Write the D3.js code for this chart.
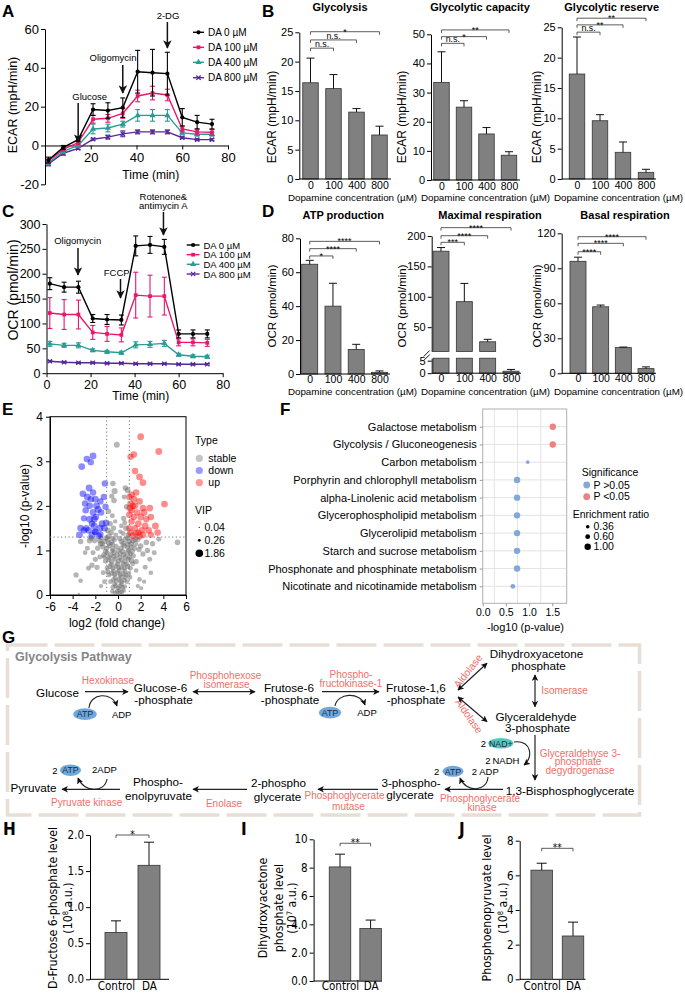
<!DOCTYPE html>
<html lang="en">
<head>
<meta charset="utf-8" />
<title>Dopamine and glycolysis</title>
<style>
  body { margin: 0; background: #fff; }
  svg { display: block; font-family: "Liberation Sans", Arial, Helvetica, sans-serif; }
  .narrow { font-family: "Liberation Sans Narrow", "Arial Narrow", "DejaVu Sans Condensed", sans-serif; }
</style>
</head>
<body>
<script src="https://cdn.jsdelivr.net/npm/d3@7"></script>
<script>
// ---------- data ----------
const seahorseTime = [1.5, 8, 14.5, 21, 27.5, 34, 40.5, 47, 53.5, 60, 66.5, 73];
const doseNames = ["DA 0 µM", "DA 100 µM", "DA 400 µM", "DA 800 µM"];

const ecar0 = [-7.5, -1, 3, 18.5, 18, 19.5, 38, 37.5, 37, 14.5, 12, 11];
const ecar100 = [-8, -2, 1.5, 13.5, 14, 16.5, 25.5, 27, 26, 8.5, 7, 6.8];
const ecar400 = [-9, -3, 0, 8.5, 9, 11, 15.5, 15.5, 15.5, 6.5, 5.8, 5.8];
const ecar800 = [-9.5, -4, -1.5, 3.2, 4.3, 6, 7, 7, 7, 4, 3, 3];
const ecar0Err = [1.5, 1, 1, 3, 4, 5, 11, 12, 11, 4.5, 3.5, 2.5];
const ecar100Err = [1, 1, 1, 2, 2, 2.5, 3, 3.5, 3, 1.5, 1.5, 1.5];
const ecar400Err = [1, 1, 1, 2.5, 2, 1.5, 3, 3, 3, 1, 1, 1];
const ecar800Err = [1, 1, 0.5, 0.5, 1, 1.5, 1, 1, 1, 0.5, 0.5, 0.5];

const ocr0 = [180, 173, 173, 110, 108, 107, 256, 258, 254, 79, 79, 79];
const ocr100 = [121, 118, 118, 82, 79, 77, 157, 155, 155, 62, 62, 61];
const ocr400 = [59, 56, 56, 46, 43, 41, 57, 58, 60, 37, 34, 33];
const ocr800 = [24, 22, 21, 21, 20, 20, 19, 19, 19, 18, 18, 18];
const ocr0Err = [12, 10, 12, 8, 10, 10, 20, 17, 15, 8, 8, 8];
const ocr100Err = [31, 30, 29, 14, 15, 14, 46, 42, 38, 7, 7, 7];
const ocr400Err = [5, 4, 5, 3, 3, 3, 6, 6, 6, 3, 3, 3];
const ocr800Err = [1.5, 1.5, 1.5, 1.5, 1.5, 1.5, 1.5, 1.5, 1.5, 1.5, 1.5, 1.5];

const doseCats = ["0", "100", "400", "800"];
const glycolysis = [16.4, 15.4, 11.4, 7.5];
const glycolysisErr = [4.2, 2.4, 0.6, 1.5];
const glycCapacity = [33.5, 25, 15.8, 8.5];
const glycCapacityErr = [10.5, 2.2, 2.2, 1.2];
const glycReserve = [17.3, 9.6, 4.4, 1.1];
const glycReserveErr = [6.1, 1.0, 1.7, 0.5];
const atpProd = [64.7, 40, 14.5, 1];
const atpProdErr = [2.3, 13.5, 3, 0.8];
const maxResp = [175, 92, 26, 0.8];
const maxRespErr = [6, 30, 4, 0.7];
const basalResp = [96, 57, 22, 4];
const basalRespErr = [3.5, 1.5, 0.5, 1.5];

// significance brackets: [index of second group, height in data units, label]
const glycolysisSig = [[1, 22.3, "n.s."], [2, 23.7, "n.s."], [3, 25.1, "*"]];
const capacitySig = [[1, 46.9, "n.s."], [2, 49.2, "*"], [3, 51.5, "**"]];
const reserveSig = [[1, 24.2, "n.s."], [2, 25.4, "**"], [3, 26.5, "**"]];
const atpSig = [[1, 69.6, "*"], [2, 73.9, "****"], [3, 78.2, "****"]];
const maxSig = [[1, 189.6, "***"], [2, 200.5, "****"], [3, 213.7, "****"]];
const basalSig = [[1, 104.2, "****"], [2, 111.4, "****"], [3, 117.1, "****"]];

// volcano: [log2 fold change, -log10 p, VIP]
const downPts = [[-3.2,2.88,1.5],[-2.75,3.05,1.4],[-2.2,3.12,1.5],[-2.4,2.98,1.3],[-1.15,2.5,1.4],[-2.55,2.4,1.5],
  [-3.1,2.27,1.4],[-2.2,2.3,1.3],[-2.7,2.2,1.5],[-2.0,2.15,1.4],[-1.25,2.2,1.3],[-2.5,2.0,1.4],[-1.9,2.0,1.5],
  [-1.1,1.98,1.3],[-2.85,1.9,1.4],[-2.2,1.85,1.5],[-1.5,1.85,1.4],[-3.0,1.72,1.3],[-2.5,1.7,1.5],[-1.95,1.75,1.4],
  [-2.3,1.6,1.3],[-1.4,1.6,1.5],[-3.3,1.5,1.4],[-2.8,1.5,1.3],[-2.1,1.55,1.4],[-1.6,1.5,1.5],[-1.2,1.5,1.4],
  [-3.4,1.35,1.5],[-2.0,1.42,1.4],[-1.55,1.36,1.3],[-2.6,1.45,1.4],[-1.75,1.92,1.5],[-2.4,2.15,1.3],[-2.1,1.7,1.5],
  [-1.55,2.1,1.3],[-1.05,1.62,1.4],[-2.9,2.05,1.4],[-1.7,1.33,1.3],[-2.3,1.34,1.5],[-3.0,1.45,1.4],[-2.05,1.42,1.2]];
const upPts = [[2.0,3.55,1.5],[3.6,3.22,1.5],[1.4,3.15,1.4],[1.1,3.1,1.3],[1.5,2.78,1.4],[1.9,2.65,1.5],[2.2,2.52,1.4],
  [4.1,2.04,1.5],[1.2,2.25,1.4],[1.0,2.2,1.3],[1.4,2.15,1.5],[1.9,2.1,1.4],[1.1,2.05,1.3],[1.5,2.0,1.5],[2.2,1.95,1.4],
  [2.8,1.95,1.5],[1.2,1.9,1.4],[1.7,1.85,1.3],[2.3,1.85,1.5],[1.0,1.8,1.4],[1.4,1.75,1.3],[2.0,1.75,1.5],[2.9,1.75,1.4],
  [1.2,1.65,1.3],[1.8,1.6,1.5],[2.4,1.55,1.4],[3.3,1.55,1.5],[1.5,1.5,1.3],[2.1,1.45,1.4],[2.7,1.45,1.5],[1.1,1.4,1.4],
  [1.6,1.38,1.3],[2.2,1.35,1.5],[3.5,1.4,1.4],[2.9,1.35,1.3],[1.3,1.33,1.5],[1.9,1.32,1.4],[1.0,1.5,1.3],[1.3,2.0,1.4],
  [2.5,1.7,1.3],[1.6,2.3,1.4],[1.05,1.95,1.5],[1.8,1.4,1.3]];
const stablePts = [[-0.1,3.37,1.1],[-0.45,2.5,1.0],[-0.3,2.33,1.2],[0.65,2.4,1.0],[-0.55,2.22,0.9],[0.85,2.35,1.1],
  [-0.35,2.12,1.0],[0.55,2.2,0.8],[-0.85,1.88,1.0],[0.75,1.98,0.9],[-0.5,1.78,0.8],[0.5,1.72,0.9],[-0.7,1.6,1.0],
  [0.3,1.55,0.7],[-0.4,1.5,0.9],[0.7,1.5,1.0],[-0.9,1.45,1.1],[0.2,1.42,0.6],[0.9,1.35,0.9],[-0.2,1.35,0.7],
  [-0.6,1.4,0.9],[0.45,1.38,0.8],[-0.8,1.32,1.0],[0.6,1.62,0.8],[-0.25,1.65,0.6],
  [5.25,1.18,1.0],[-3.7,0.45,0.9],[-3.3,0.32,0.7],[-3.45,0.02,0.2],[-2.3,0.67,0.9],[-3.3,1.2,1.0],[-2.5,1.22,1.1],
  [-2.05,1.22,1.0],[-1.55,1.15,0.9],[-2.7,1.05,0.8],[-2.9,0.95,0.7],[-2.2,0.95,0.8],[-1.85,0.62,0.9],[-1.3,0.5,0.8],
  [-1.2,0.3,0.7],[-2.0,0.8,0.9],[-1.6,0.85,0.8],[-2.6,0.6,0.8],[2.5,1.18,1.0],[3.05,1.15,0.9],[3.6,1.25,0.8],
  [2.2,0.92,0.9],[2.4,0.62,0.8],[2.9,0.5,0.7],[2.3,0.3,0.6],[1.6,0.75,0.9],[1.85,1.02,0.9],[1.6,0.55,0.7],
  [2.8,0.8,0.8],[2.0,1.1,1.0],[1.5,1.25,1.0],[3.2,0.95,0.8],[2.6,1.0,0.9],[-1.8,1.05,0.9],[-2.4,1.28,1.0],
  [1.9,0.35,0.7],[-1.5,0.2,0.6],[2.05,0.15,0.5],[1.75,0.2,0.6],
  [-1.6,1.22,0.9],[-1.2,1.2,0.9],[-0.9,1.25,1.0],[-0.6,1.18,0.9],[-0.3,1.24,0.8],[0.3,1.2,0.9],[0.65,1.25,1.0],
  [1.0,1.2,0.9],[1.3,1.22,1.0],[1.75,1.25,0.9],
  [-1.35,1.08,0.9],[-1.0,1.05,0.9],[-0.75,1.1,0.8],[-0.45,1.04,0.9],[-0.15,1.09,0.8],[0.25,1.05,0.9],[0.55,1.1,0.9],
  [0.85,1.06,0.8],[1.15,1.08,0.9],[1.45,1.05,0.9],
  [-1.25,0.9,0.9],[-0.95,0.94,0.8],[-0.65,0.9,0.9],[-0.35,0.95,0.8],[-0.1,0.9,0.9],[0.2,0.93,0.8],[0.5,0.9,0.9],
  [0.8,0.95,0.9],[1.1,0.92,0.8],[1.35,0.88,0.9],
  [-1.1,0.76,0.9],[-0.8,0.79,0.8],[-0.55,0.75,0.9],[-0.25,0.8,0.8],[0.05,0.76,0.9],[0.3,0.79,0.8],[0.6,0.75,0.9],
  [0.9,0.8,0.8],[1.2,0.77,0.9],
  [-0.95,0.6,0.8],[-0.7,0.64,0.9],[-0.45,0.6,0.8],[-0.2,0.65,0.9],[0.05,0.61,0.8],[0.3,0.63,0.9],[0.55,0.6,0.8],
  [0.85,0.64,0.9],[1.1,0.6,0.8],
  [-0.8,0.45,0.8],[-0.55,0.49,0.9],[-0.3,0.46,0.8],[-0.05,0.5,0.9],[0.2,0.45,0.8],[0.45,0.48,0.9],[0.7,0.45,0.8],
  [0.95,0.49,0.8],
  [-0.65,0.3,0.8],[-0.4,0.34,0.8],[-0.15,0.31,0.9],[0.1,0.35,0.8],[0.3,0.3,0.8],[0.55,0.33,0.8],[0.8,0.3,0.7],
  [-0.45,0.17,0.8],[-0.2,0.2,0.8],[0.0,0.16,0.8],[0.2,0.2,0.8],[0.4,0.17,0.7],[0.6,0.19,0.7],
  [-0.25,0.05,0.7],[-0.05,0.08,0.8],[0.15,0.04,0.7],[0.35,0.07,0.7],
  [-1.4,1.15,0.9],[-0.8,1.16,0.9],[-0.45,1.14,0.8],[0.45,1.15,0.9],[0.8,1.14,0.8],[1.15,1.15,0.9],[-1.1,0.98,0.9],
  [-0.5,0.99,0.8],[0.0,1.0,0.8],[0.4,0.98,0.9],[0.95,1.0,0.8],[1.25,0.98,0.9],[-0.8,0.84,0.8],[-0.4,0.86,0.9],
  [0.15,0.84,0.8],[0.65,0.85,0.9],[1.0,0.84,0.8],[-0.6,0.69,0.8],[-0.05,0.7,0.9],[0.45,0.7,0.8],[0.75,0.69,0.8],
  [-0.4,0.54,0.8],[0.1,0.55,0.9],[0.6,0.54,0.8],[-0.25,0.39,0.8],[0.25,0.4,0.8],[0.65,0.39,0.8],[-0.3,0.24,0.7],
  [0.3,0.25,0.8],[0.1,0.11,0.7],
  [-1.5,1.28,0.9],[-1.05,1.28,0.9],[-0.45,1.27,0.8],[0.15,1.27,0.9],[0.85,1.28,0.9],[1.55,1.15,0.9],[-1.2,0.85,0.8],
  [1.3,0.7,0.8],[-0.9,0.52,0.8],[1.05,0.4,0.8],[-0.5,0.08,0.7],[0.5,0.1,0.7]];
const vipLegend = [0.04, 0.26, 1.86];

// KEGG enrichment
const pathways = ["Galactose metabolism", "Glycolysis / Gluconeogenesis", "Carbon metabolism",
  "Porphyrin and chlorophyll metabolism", "alpha-Linolenic acid metabolism", "Glycerophospholipid metabolism",
  "Glycerolipid metabolism", "Starch and sucrose metabolism", "Phosphonate and phosphinate metabolism",
  "Nicotinate and nicotinamide metabolism"];
const pathLogP = [1.51, 1.51, 0.97, 0.74, 0.74, 0.74, 0.74, 0.74, 0.74, 0.65];
const pathRatio = [1.0, 1.0, 0.36, 1.0, 1.0, 1.0, 1.0, 1.0, 1.0, 0.6];
const ratioLegend = [0.36, 0.60, 1.00];

// metabolite levels
const groups = ["Control", "DA"];
const f6p = [0.65, 1.58], f6pErr = [0.16, 0.32];
const dhap = [8.05, 3.7], dhapErr = [0.9, 0.6];
const pep = [6.3, 2.5], pepErr = [0.4, 0.8];

// ---------- drawing ----------
const svg = d3.select("body").append("svg").attr("width", 685).attr("height", 994);
const defs = svg.append("defs");
function addArrow(id, size) {
  defs.append("marker").attr("id", id).attr("viewBox", "0 0 10 10")
    .attr("refX", 9).attr("refY", 5).attr("markerWidth", size).attr("markerHeight", size)
    .attr("markerUnits", "userSpaceOnUse").attr("orient", "auto-start-reverse")
    .append("path").attr("d", "M0,0L10,5L0,10L2.5,5Z").attr("fill", "#111");
}
addArrow("arrBig", 8.5);
addArrow("arrSmall", 6.5);

function styleAxis(sel, fs) {
  sel.attr("font-family", null).attr("font-size", fs);
  sel.selectAll("path.domain").attr("stroke", "#000");
  sel.selectAll(".tick line").attr("stroke", "#000");
  sel.selectAll(".tick text").attr("fill", "#000");
}
function label(g, txt, x, y, fs, opt = {}) {
  return g.append("text").attr("x", x).attr("y", y).attr("font-size", fs)
    .attr("text-anchor", opt.anchor || "middle").attr("font-weight", opt.bold ? "bold" : null)
    .attr("fill", opt.fill || "#000").attr("class", opt.cls || null).text(txt);
}
function vlabel(g, txt, x, y, fs, cls) {
  return g.append("text").attr("transform", `translate(${x},${y}) rotate(-90)`)
    .attr("text-anchor", "middle").attr("dy", "0.35em").attr("font-size", fs)
    .attr("class", cls || null).text(txt);
}

[["A", 2, 17], ["B", 262, 17], ["C", 2, 217], ["D", 262, 217], ["E", 2, 415], ["F", 280, 415], ["G", 2, 643]]
  .forEach(([t, x, y]) => label(svg, t, x, y, 17, { anchor: "start", bold: true }));
[["H", 3, 835], ["I", 241, 835], ["J", 459, 835]]
  .forEach(([t, x, y]) => label(svg, t, x, y, 17, { anchor: "start", bold: true, cls: "narrow" }));

// ---- A and C : Seahorse traces ----
const lineColors = ["#000000", "#e8176b", "#2a9b95", "#55289a"];
const lineSymbols = [d3.symbolCircle, d3.symbolSquare, d3.symbolTriangle, d3.symbolTimes];
const symbolSizes = [14, 14, 16, 14];

function drawSymbol(g, k, cx, cy) {
  const p = g.append("path").attr("transform", `translate(${cx},${cy})`)
    .attr("d", d3.symbol(lineSymbols[k], symbolSizes[k])());
  if (k === 3) p.attr("fill", "none").attr("stroke", lineColors[k]).attr("stroke-width", 1.2);
  else p.attr("fill", lineColors[k]);
}

function seahorse(o) {
  const g = svg.append("g");
  const x = d3.scaleLinear().domain([0, 80]).range(o.xr);
  const y = d3.scaleLinear().domain(o.yd).range(o.yr);
  g.append("g").attr("transform", `translate(${o.xr[0]},0)`)
    .call(d3.axisLeft(y).tickValues(o.yt).tickSize(4).tickPadding(2).tickSizeOuter(0).tickFormat(d => String(d)))
    .call(styleAxis, o.fs);
  g.append("g").attr("transform", `translate(0,${y(0)})`)
    .call(d3.axisBottom(x).tickValues(o.xt).tickSize(4).tickPadding(3).tickSizeOuter(0))
    .call(styleAxis, o.fs);
  for (let k = 3; k >= 0; k--) {
    const vals = o.vals[k], errs = o.errs[k], c = lineColors[k];
    g.append("path").datum(vals)
      .attr("d", d3.line().x((d, i) => x(seahorseTime[i])).y(d => y(d)))
      .attr("fill", "none").attr("stroke", c).attr("stroke-width", 1.4);
    const eb = g.append("g").attr("stroke", c).attr("stroke-width", 1.1);
    vals.forEach((v, i) => {
      const cx = x(seahorseTime[i]);
      eb.append("line").attr("x1", cx).attr("x2", cx).attr("y1", y(v - errs[i])).attr("y2", y(v + errs[i]));
      [v - errs[i], v + errs[i]].forEach(e => eb.append("line").attr("x1", cx - 2.5).attr("x2", cx + 2.5).attr("y1", y(e)).attr("y2", y(e)));
      drawSymbol(g, k, cx, y(v));
    });
  }
  // legend
  doseNames.forEach((n, k) => {
    const ly = o.legY[k];
    g.append("line").attr("x1", o.legX[0]).attr("x2", o.legX[1]).attr("y1", ly).attr("y2", ly)
      .attr("stroke", lineColors[k]).attr("stroke-width", 1.4);
    drawSymbol(g, k, (o.legX[0] + o.legX[1]) / 2, ly);
    label(g, n, o.legX[1] + 4, ly + 3.5, o.legFs, { anchor: "start" });
  });
  // injection arrows
  o.arrows.forEach(a => {
    const ax = x(a.t);
    g.append("line").attr("x1", ax).attr("x2", ax).attr("y1", a.y0).attr("y2", a.y1)
      .attr("stroke", "#111").attr("stroke-width", 1.5).attr("marker-end", "url(#arrBig)");
    a.text.forEach((t, j) => label(g, t, a.tx, a.ty + j * 9, 9.5));
  });
  label(g, "Time (min)", o.xlab[0], o.xlab[1], 12);
  vlabel(g, o.ylab, o.ylabPos[0], o.ylabPos[1], o.ylabFs);
}

seahorse({
  xr: [45, 228], yd: [-20, 60], yr: [184.3, 29], yt: [-20, 0, 20, 40, 60], xt: [20, 40, 60, 80], fs: 13,
  vals: [ecar0, ecar100, ecar400, ecar800], errs: [ecar0Err, ecar100Err, ecar400Err, ecar800Err],
  legX: [193, 204], legY: [32.3, 47.3, 62.3, 77.7], legFs: 10,
  arrows: [
    { t: 14.5, y0: 103, y1: 142, text: ["Glucose"], tx: 89.7, ty: 100 },
    { t: 34, y0: 65, y1: 93, text: ["Oligomycin"], tx: 113, ty: 61 },
    { t: 53.5, y0: 22, y1: 48, text: ["2-DG"], tx: 168, ty: 18.5 }],
  xlab: [150.8, 178.5], ylab: "ECAR (mpH/min)", ylabPos: [13, 105], ylabFs: 12.5
});

seahorse({
  xr: [46.5, 222.7], yd: [0, 300], yr: [373.2, 224], yt: [0, 50, 100, 150, 200, 250, 300], xt: [0, 20, 40, 60, 80], fs: 12.5,
  vals: [ocr0, ocr100, ocr400, ocr800], errs: [ocr0Err, ocr100Err, ocr400Err, ocr800Err],
  legX: [186.7, 199.5], legY: [245, 254.7, 264.3, 274], legFs: 9.5,
  arrows: [
    { t: 14.3, y0: 248, y1: 275, text: ["Oligomycin"], tx: 77.7, ty: 243.5 },
    { t: 33.6, y0: 279, y1: 298, text: ["FCCP"], tx: 116.7, ty: 275.5 },
    { t: 53.1, y0: 212, y1: 235, text: ["Rotenone&", "antimycin A"], tx: 163.3, ty: 200 }],
  xlab: [140.8, 399.5], ylab: "OCR (pmol/min)", ylabPos: [13.3, 290], ylabFs: 14
});

// ---- B and D : bar charts ----
function bracket(g, x1, x2, yy, txt) {
  const b = g.append("g").attr("stroke", "#333").attr("stroke-width", 0.8).attr("fill", "none");
  b.append("path").attr("d", `M${x1},${yy + 3}V${yy}H${x2}V${yy + 3}`);
  const star = txt.includes("*");
  label(g, txt, (x1 + x2) / 2, star ? yy + 3 : yy - 1.2, star ? 9 : 8.8);
}
function errUp(g, cx, y0, y1, cap) {
  g.append("path").attr("d", `M${cx},${y0}V${y1}M${cx - cap},${y1}H${cx + cap}`)
    .attr("stroke", "#111").attr("stroke-width", 1).attr("fill", "none");
}

function barPanel(o) {
  const g = svg.append("g");
  const x = d3.scalePoint().domain(doseCats).range(o.cx);
  const bw = o.bw;
  let yMain;
  if (o.broken) {
    const yUp = d3.scaleLinear().domain([10, 200]).range([351.5, 236]);
    const yLo = d3.scaleLinear().domain([0, 6]).range([o.y0, 358.2]);
    yMain = yUp;
    g.append("g").attr("transform", `translate(${o.ax[0]},0)`)
      .call(d3.axisLeft(yUp).tickValues([50, 100, 150, 200]).tickSize(4).tickPadding(2).tickSizeOuter(0)).call(styleAxis, 11);
    g.append("g").attr("transform", `translate(${o.ax[0]},0)`)
      .call(d3.axisLeft(yLo).tickValues([0, 5]).tickFormat(d3.format("d")).tickSize(4).tickPadding(2).tickSizeOuter(0)).call(styleAxis, 11);
    g.append("path").attr("d", `M${o.ax[0] - 8},356.5l6,-6M${o.ax[0] - 8},360.5l6,-6`).attr("stroke", "#000").attr("stroke-width", 0.9);
    o.vals.forEach((v, i) => {
      const cx = x(doseCats[i]);
      g.append("rect").attr("x", cx - bw / 2).attr("width", bw).attr("y", yLo(Math.min(v, 6))).attr("height", yLo(0) - yLo(Math.min(v, 6)))
        .attr("fill", "#808080").attr("stroke", "#333").attr("stroke-width", 0.8);
      if (v > 10) {
        g.append("rect").attr("x", cx - bw / 2).attr("width", bw).attr("y", yUp(v)).attr("height", yUp(10) - yUp(v))
          .attr("fill", "#808080").attr("stroke", "#333").attr("stroke-width", 0.8);
        errUp(g, cx, yUp(v), yUp(v + o.errs[i]), 4);
      } else {
        errUp(g, cx, yLo(v), yLo(v + o.errs[i]), 4);
      }
    });
  } else {
    const y = d3.scaleLinear().domain(o.yd).range([o.y0, o.yTop]);
    yMain = y;
    g.append("g").attr("transform", `translate(${o.ax[0]},0)`)
      .call(d3.axisLeft(y).tickValues(d3.range(o.yd[0], o.yd[1] + 0.001, o.step)).tickSize(4).tickPadding(2).tickSizeOuter(0))
      .call(styleAxis, 11);
    g.selectAll(null).data(o.vals).join("rect")
      .attr("x", (d, i) => x(doseCats[i]) - bw / 2).attr("width", bw)
      .attr("y", d => y(d)).attr("height", d => y(0) - y(d))
      .attr("fill", "#808080").attr("stroke", "#333").attr("stroke-width", 0.8);
    o.vals.forEach((v, i) => errUp(g, x(doseCats[i]), y(v), y(v + o.errs[i]), 4));
  }
  g.append("line").attr("x1", o.ax[0]).attr("x2", o.ax[1]).attr("y1", o.y0).attr("y2", o.y0).attr("stroke", "#000");
  g.append("g").attr("transform", `translate(0,${o.y0})`)
    .call(d3.axisBottom(x).tickSize(0).tickPadding(o.xpad)).call(styleAxis, 10.5)
    .select("path.domain").remove();
  o.sig.forEach(([k, h, t]) => bracket(g, x(doseCats[0]), x(doseCats[k]), yMain(h), t));
  label(g, o.title, o.titleX, o.titleY, 11, { bold: true });
  label(g, "Dopamine concentration (µM)", o.xlabX, o.xlabY, 9.8);
  vlabel(g, o.ylab, o.ylabPos[0], o.ylabPos[1], o.ylabFs);
}

const bRow = { y0: 179, xpad: 2.5, xlabY: 200.8, titleY: 10.5, ylab: "ECAR (mpH/min)", ylabFs: 12, bw: 15.5 };
barPanel({ ...bRow, ax: [299.3, 391], cx: [310.5, 379.5], yd: [0, 25], step: 5, yTop: 32.3, vals: glycolysis, errs: glycolysisErr,
  sig: glycolysisSig, title: "Glycolysis", titleX: 340, xlabX: 352.5, ylabPos: [271.7, 117] });
barPanel({ ...bRow, y0: 180, ax: [431, 520], cx: [441.5, 509], yd: [0, 50], step: 10, yTop: 34.3, vals: glycCapacity, errs: glycCapacityErr,
  sig: capacitySig, title: "Glycolytic capacity", titleX: 480, xlabX: 485.5, ylabPos: [401.7, 117] });
barPanel({ ...bRow, ax: [561.7, 656], cx: [577, 646], yd: [0, 25], step: 5, yTop: 27.3, vals: glycReserve, errs: glycReserveErr,
  sig: reserveSig, title: "Glycolytic reserve", titleX: 611.7, xlabX: 618.5, ylabPos: [536.7, 117] });

const dRow = { xpad: 1.2, xlabY: 394.5, titleY: 219, ylab: "OCR (pmol/min)", ylabFs: 11.5, bw: 16 };
barPanel({ ...dRow, y0: 374, ax: [300, 390], cx: [309.7, 379.5], yd: [0, 80], step: 20, yTop: 238.3, vals: atpProd, errs: atpProdErr,
  sig: atpSig, title: "ATP production", titleX: 343.3, xlabX: 352.5, ylabPos: [271.7, 306] });
barPanel({ ...dRow, y0: 373.2, broken: true, ax: [431.7, 521], cx: [441, 511], vals: maxResp, errs: maxRespErr,
  sig: maxSig, title: "Maximal respiration", titleX: 490, xlabX: 485.5, ylabPos: [401.7, 306] });
barPanel({ ...dRow, y0: 373.3, ax: [561.7, 656], cx: [578, 646], yd: [0, 120], step: 30, yTop: 233.3, vals: basalResp, errs: basalRespErr,
  sig: basalSig, title: "Basal respiration", titleX: 625, xlabX: 618.5, ylabPos: [536.7, 306] });

// ---- E : volcano ----
(function () {
  const g = svg.append("g");
  const x = d3.scaleLinear().domain([-6, 6]).range([50, 186]);
  const y = d3.scaleLinear().domain([0, 4]).range([595, 416.7]);
  const r = d3.scaleSqrt().domain([0, 1.86]).range([0, 3.8]);
  g.append("g").attr("transform", "translate(0,595)")
    .call(d3.axisBottom(x).tickValues(d3.range(-6, 7, 2)).tickSize(4).tickPadding(3).tickSizeOuter(0).tickFormat(d => String(d)))
    .call(styleAxis, 12);
  g.append("g").attr("transform", "translate(50,0)")
    .call(d3.axisLeft(y).ticks(4).tickSize(4).tickPadding(3).tickSizeOuter(0)).call(styleAxis, 12);
  g.append("rect").attr("x", 50).attr("y", 416.7).attr("width", 136).attr("height", 178.3)
    .attr("fill", "none").attr("stroke", "#000");
  const dots = g.append("g");
  [[stablePts, "#6c6c6c", 0.5], [downPts, "#0000ff", 0.45], [upPts, "#ff0000", 0.45]].forEach(([pts, c, op]) => {
    dots.selectAll(null).data(pts).join("circle")
      .attr("cx", d => x(d[0])).attr("cy", d => y(d[1])).attr("r", d => r(d[2]))
      .attr("fill", c).attr("fill-opacity", op);
  });
  const dash = g.append("g").attr("stroke", "#777").attr("stroke-width", 1).attr("stroke-dasharray", "1.2,2.5");
  [-1, 1].forEach(v => dash.append("line").attr("x1", x(v)).attr("x2", x(v)).attr("y1", 416.7).attr("y2", 595));
  dash.append("line").attr("x1", 50).attr("x2", 186).attr("y1", y(1.3)).attr("y2", y(1.3));
  label(g, "log2 (fold change)", 117, 627, 12);
  vlabel(g, "-log10 (p-value)", 25, 506, 12);
  // legend
  label(g, "Type", 195, 444, 10.5, { anchor: "start" });
  [["stable", "#6c6c6c"], ["down", "#0000ff"], ["up", "#ff0000"]].forEach(([t, c], i) => {
    const ly = 458.3 + i * 12.2;
    g.append("circle").attr("cx", 199.3).attr("cy", ly).attr("r", 3.6).attr("fill", c).attr("fill-opacity", 0.4);
    label(g, t, 208.3, ly + 3.7, 10.5, { anchor: "start" });
  });
  label(g, "VIP", 195, 513.5, 10.5, { anchor: "start" });
  vipLegend.forEach((v, i) => {
    const ly = 527.3 + i * 13;
    g.append("circle").attr("cx", 199.3).attr("cy", ly).attr("r", Math.max(r(v), 0.6)).attr("fill", "#000");
    label(g, v.toFixed(2), 204.5, ly + 3.7, 10.5, { anchor: "start" });
  });
})();

// ---- F : enrichment dot plot ----
(function () {
  const g = svg.append("g");
  const x = d3.scaleLinear().domain([0, 1.81]).range([482.7, 566.7]);
  const y = d3.scalePoint().domain(pathways).range([426.7, 586.3]);
  const r = d3.scaleSqrt().domain([0.36, 1.0]).range([1.8, 3.2]);
  const blue = "#83a8d8", red = "#f28080";
  const grid = g.append("g").attr("stroke", "#e3e3e3").attr("stroke-width", 1);
  pathways.forEach(p => grid.append("line").attr("x1", 482.7).attr("x2", 566.7).attr("y1", y(p)).attr("y2", y(p)));
  [0.25, 0.75, 1.25].forEach(v => grid.append("line").attr("x1", x(v)).attr("x2", x(v)).attr("y1", 409).attr("y2", 603.3));
  g.append("rect").attr("x", 482.7).attr("y", 409).attr("width", 84).attr("height", 194.3)
    .attr("fill", "none").attr("stroke", "#b0b0b0");
  g.append("g").attr("transform", "translate(482.7,0)")
    .call(d3.axisLeft(y).tickSize(3).tickPadding(3)).call(styleAxis, 11)
    .call(a => { a.select("path.domain").remove(); a.selectAll(".tick line").attr("stroke", "#999"); });
  g.append("g").attr("transform", "translate(0,603.3)")
    .call(d3.axisBottom(x).tickValues([0, 0.5, 1, 1.5]).tickFormat(d3.format(".1f")).tickSize(3).tickPadding(2))
    .call(styleAxis, 10.5)
    .call(a => { a.select("path.domain").remove(); a.selectAll(".tick line").attr("stroke", "#999"); });
  g.selectAll(null).data(pathways).join("circle")
    .attr("cx", (d, i) => x(pathLogP[i])).attr("cy", d => y(d)).attr("r", (d, i) => r(pathRatio[i]))
    .attr("fill", (d, i) => pathLogP[i] > 1.3 ? red : blue);
  label(g, "-log10 (p-value)", 525.5, 630.5, 11);
  label(g, "Significance", 581.7, 475.5, 10.5, { anchor: "start" });
  [["P >0.05", blue], ["P <0.05", red]].forEach(([t, c], i) => {
    const ly = 485 + i * 11.7;
    g.append("circle").attr("cx", 586.7).attr("cy", ly).attr("r", 3.4).attr("fill", c);
    label(g, t, 593.5, ly + 3.7, 10.5, { anchor: "start" });
  });
  label(g, "Enrichment ratio", 572.7, 517.5, 10.5, { anchor: "start" });
  ratioLegend.forEach((v, i) => {
    const ly = 526.7 + i * 10;
    g.append("circle").attr("cx", 587.7).attr("cy", ly).attr("r", r(v)).attr("fill", "#000");
    label(g, v.toFixed(2), 593.5, ly + 3.7, 10.5, { anchor: "start" });
  });
})();

// ---- G : glycolysis pathway diagram ----
(function () {
  const g = svg.append("g");
  g.append("rect").attr("x", 7.5).attr("y", 645).attr("width", 632).attr("height", 170)
    .attr("fill", "#fff").attr("stroke", "#e7dfd6").attr("stroke-width", 3.5).attr("stroke-dasharray", "40,7");
  label(g, "Glycolysis Pathway", 15, 660.5, 12.5, { anchor: "start", bold: true, fill: "#858585" });
  const red = "#ef6f6a";
  const metabolites = [
    ["Glucose", 57.5, 697], ["Glucose-6", 160.5, 692], ["-phosphate", 163.5, 704],
    ["Frutose-6", 289, 692], ["-phosphate", 290, 704], ["Frutose-1,6", 416, 692], ["-phosphate", 416, 704],
    ["Dihydroxyacetone", 536.5, 658], ["phosphate", 538.5, 669.5], ["Glyceraldehyde", 536, 720.5], ["3-phosphate", 537.5, 732],
    ["1,3-Bisphosphoglycerate", 570, 794.5], ["3-phospho-", 411, 787], ["glycerate", 410, 799],
    ["2-phospho", 278.5, 787], ["glycerate", 277.5, 800.5], ["Phospho-", 158, 785.5], ["enolpyruvate", 158.5, 799.5],
    ["Pyruvate", 33.5, 791.5]];
  metabolites.forEach(([t, x, y]) => label(g, t, x, y, 11.7));
  const enzymes = [
    ["Hexokinase", 108, 683.5], ["Phosphohexose", 225.5, 678.5], ["isomerase", 226.5, 687.8],
    ["Phospho-", 351, 678], ["fructokinase-1", 351, 687.3], ["Isomerase", 564.5, 693.5],
    ["Glyceraldehyse 3-", 580, 756.5], ["phosphate", 578, 765.3], ["degydrogenase", 580, 774.1],
    ["Phosphoglycerate", 480, 801.5], ["kinase", 482, 810.5], ["Phosphoglycerate", 344.5, 799], ["mutase", 348.5, 809.5],
    ["Enolase", 224, 807], ["Pyruvate kinase", 86.7, 806]];
  enzymes.forEach(([t, x, y]) => label(g, t, x, y, 10, { fill: red }));
  [[468, 671, -52], [469, 716, 55]].forEach(([x, y, a]) =>
    g.append("text").attr("transform", `translate(${x},${y}) rotate(${a})`).attr("text-anchor", "middle")
      .attr("dy", "0.35em").attr("font-size", 10.3).attr("fill", red).text("Aldolase"));
  const arrows = [
    [85, 691.7, 128, 691.7, false], [193, 691.7, 255, 691.7, true], [322, 691.7, 379, 691.7, false],
    [458, 690, 487, 663.3, true], [458, 697, 487, 721.7, true], [535, 675, 535, 706.7, true],
    [535, 735, 535, 780, false], [503, 789.3, 445, 789.3, false], [378, 789.3, 318, 789.3, false],
    [247, 789.3, 193, 789.3, false], [120, 789.3, 62, 789.3, false]];
  arrows.forEach(([x1, y1, x2, y2, both]) => {
    const l = g.append("line").attr("x1", x1).attr("y1", y1).attr("x2", x2).attr("y2", y2)
      .attr("stroke", "#222").attr("stroke-width", 1.2).attr("marker-end", "url(#arrSmall)");
    if (both) l.attr("marker-start", "url(#arrSmall)");
  });
  const curves = ["M89,708 C90,693 112,691 117,706", "M335,706 C337,693 360,691 365,705",
    "M514,742 C531,740 534,757 524,765", "M488,777 C487,792 466,793 460,778", "M107,779 C105,793 84,793 78,778"];
  curves.forEach(d => g.append("path").attr("d", d).attr("fill", "none").attr("stroke", "#222")
    .attr("stroke-width", 1.1).attr("marker-end", "url(#arrSmall)"));
  const pills = [["ATP", 85, 714.2, 11.7, 5.9, "#6fa8dc"], ["ATP", 330, 712.7, 11.2, 5.9, "#6fa8dc"],
    ["NAD+", 500.8, 743.3, 12.5, 5.3, "#55c7bd"], ["ATP", 453, 771.3, 10.5, 5.5, "#6fa8dc"], ["ATP", 70.5, 770.2, 10.5, 5.8, "#6fa8dc"]];
  pills.forEach(([t, x, y, rx, ry, c]) => {
    g.append("ellipse").attr("cx", x).attr("cy", y).attr("rx", rx).attr("ry", ry).attr("fill", c);
    label(g, t, x, y + 3.2, 8.8, { fill: "#1d2b44" });
  });
  [["ADP", 121.7, 717.5], ["ADP", 367, 716], ["2", 483.3, 746.5], ["2", 488, 764], ["NADH", 492.5, 764],
   ["2", 436.7, 774.5], ["2", 474.3, 774.5], ["ADP", 489, 774.5], ["2", 55, 773.5], ["2ADP", 104.5, 772.5]]
    .forEach(([t, x, y]) => label(g, t, x, y, 9.5, { anchor: t === "NADH" ? "start" : "middle" }));
})();

// ---- H, I, J : metabolite levels ----
function levelPanel(o) {
  const g = svg.append("g").attr("class", "narrow");
  const x = d3.scalePoint().domain(groups).range(o.cx);
  const y = d3.scaleLinear().domain(o.yd).range([o.y0, o.yTop]);
  g.append("g").attr("transform", `translate(${o.ax[0]},0)`)
    .call(d3.axisLeft(y).tickValues(o.ticks).tickFormat(o.fmt).tickSize(4).tickPadding(2).tickSizeOuter(0))
    .call(styleAxis, 11.5);
  g.append("line").attr("x1", o.ax[0]).attr("x2", o.ax[1]).attr("y1", o.y0).attr("y2", o.y0).attr("stroke", "#000");
  g.selectAll(null).data(o.vals).join("rect")
    .attr("x", (d, i) => x(groups[i]) - o.bw / 2).attr("width", o.bw)
    .attr("y", d => y(d)).attr("height", d => o.y0 - y(d))
    .attr("fill", "#808080").attr("stroke", "#333").attr("stroke-width", 0.8);
  o.vals.forEach((v, i) => errUp(g, x(groups[i]), y(v), y(v + o.errs[i]), 5));
  // category labels share one baseline across the three panels
  g.append("g").attr("transform", `translate(0,${o.y0})`)
    .call(d3.axisBottom(x).tickSize(0).tickPadding(989.5 - o.y0 - 0.71 * 11.5)).call(styleAxis, 11.5)
    .select("path.domain").remove();
  const by = y(o.sig[0]);
  g.append("path").attr("d", `M${x(groups[0])},${by + 3}V${by}H${x(groups[1])}V${by + 3}`)
    .attr("stroke", "#333").attr("stroke-width", 0.8).attr("fill", "none");
  label(g, o.sig[1], (x(groups[0]) + x(groups[1])) / 2, by + 3, 10);
  o.ylab.forEach(([t, sup, rest, lx]) => {
    const tx = g.append("text").attr("transform", `translate(${lx},908) rotate(-90)`).attr("text-anchor", "middle")
      .attr("dy", "0.35em").attr("font-size", 12.3).text(t);
    if (sup) {
      tx.append("tspan").attr("font-size", 7.5).attr("baseline-shift", "super").text(sup);
      tx.append("tspan").text(rest);
    }
  });
}
levelPanel({ ax: [90, 169], cx: [116, 149], bw: 22, yd: [0, 2], y0: 979.3, yTop: 835, ticks: [0, 0.5, 1, 1.5, 2],
  fmt: d3.format(".1f"), vals: f6p, errs: f6pErr, sig: [2.0, "*"],
  ylab: [["D-Fructose 6-phosphate level", null, null, 52.6], ["(10", "8", " a.u.)", 68]] });
levelPanel({ ax: [313.6, 382], cx: [340, 370.6], bw: 21.5, yd: [0, 10], y0: 981, yTop: 839.3, ticks: [0, 2, 4, 6, 8, 10],
  fmt: d => d <= 4 ? d.toFixed(1) : String(d), vals: dhap, errs: dhapErr, sig: [9.72, "**"],
  ylab: [["Dihydroxyacetone", null, null, 263], ["phosphate level", null, null, 278.5], ["(10", "7", " a.u.)", 291.7]] });
levelPanel({ ax: [519.7, 585.5], cx: [541.7, 573], bw: 21.5, yd: [0, 8], y0: 979.3, yTop: 840.7, ticks: [0, 2, 4, 6, 8],
  fmt: d => String(d), vals: pep, errs: pepErr, sig: [7.56, "**"],
  ylab: [["Phosphoenopyruvate level", null, null, 486.8], ["(10", "8", " a.u.)", 502.2]] });
</script>
</body>
</html>
